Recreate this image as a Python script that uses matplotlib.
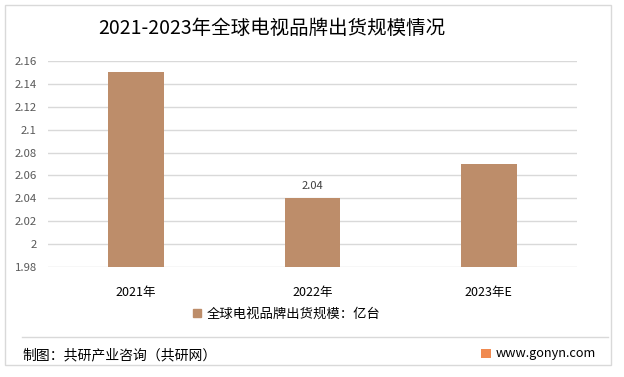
import matplotlib
matplotlib.use("Agg")
import matplotlib.pyplot as plt
from matplotlib.patches import Rectangle, FancyBboxPatch
from matplotlib.lines import Line2D

plt.rcParams['font.family'] = ['Noto Sans CJK SC', 'DejaVu Sans']

categories = ["2021年", "2022年", "2023年E"]
values = [2.15, 2.04, 2.07]
label_flags = [False, True, False]
yticks = [1.98, 2.0, 2.02, 2.04, 2.06, 2.08, 2.1, 2.12, 2.14, 2.16]
ytick_labels = ["1.98", "2", "2.02", "2.04", "2.06", "2.08", "2.1", "2.12", "2.14", "2.16"]
title = "2021-2023年全球电视品牌出货规模情况"
legend_label = "全球电视品牌出货规模：亿台"
source = "制图：共研产业咨询（共研网）"
site = "www.gonyn.com"

bar_color = "#BD8D6A"
W, H = 624, 377
fig = plt.figure(figsize=(W/100, H/100), dpi=100)
fig.patch.set_facecolor("white")

# outer border
fig.patches.append(Rectangle((5/W, 1-365/H), 606/W, 360/H, transform=fig.transFigure,
                             fill=False, edgecolor="#D9D9D9", linewidth=1.0))
# footer separator
fig.lines.append(Line2D([22/W, 608/W], [1-337/H, 1-337/H], transform=fig.transFigure,
                        color="#D9D9D9", linewidth=1.0))

ax = fig.add_axes([48/W, 1-267/H, 529/W, 206/H])
x = range(len(categories))
bars = ax.bar(x, values, width=0.315, color=bar_color, zorder=3, label=legend_label)
ax.set_xlim(-0.5, 2.5)
ax.set_ylim(1.98, 2.16)
ax.set_yticks(yticks)
ax.set_yticklabels(ytick_labels, fontsize=8.2, color="#595959")
ax.set_xticks(list(x))
ax.set_xticklabels(categories, fontsize=9, color="#000000")
ax.tick_params(axis='both', length=0)
ax.tick_params(axis='y', pad=8)
ax.tick_params(axis='x', pad=14)
ax.grid(axis='y', color="#D9D9D9", linewidth=1.0, zorder=0)
for s in ax.spines.values():
    s.set_visible(False)

for xi, v, f in zip(x, values, label_flags):
    if f:
        ax.text(xi, v + 0.006, f"{v:.2f}", ha='center', va='bottom', fontsize=8, color="#404040", zorder=4)

fig.text(98/W, 1-28.5/H, title, fontsize=14, ha='left', va='center', color="#000000")

leg = fig.legend(handles=[Rectangle((0, 0), 1, 1, color=bar_color)], labels=[legend_label],
                 loc='center', bbox_to_anchor=(287/W, 1-314/H), frameon=False,
                 fontsize=9.6, handlelength=0.55, handleheight=0.55, handletextpad=0.45)

fig.text(22/W, 1-355/H, source, fontsize=10, ha='left', va='center', color="#000000")
fig.text(596/W, 1-354/H, site, fontsize=9.2, ha='right', va='center', color="#000000")
# small logo
fig.patches.append(Rectangle((481/W, 1-358/H), 10/W, 9/H, transform=fig.transFigure,
                             facecolor="#F08A50", edgecolor="none"))

fig.savefig("out.png", dpi=100)
